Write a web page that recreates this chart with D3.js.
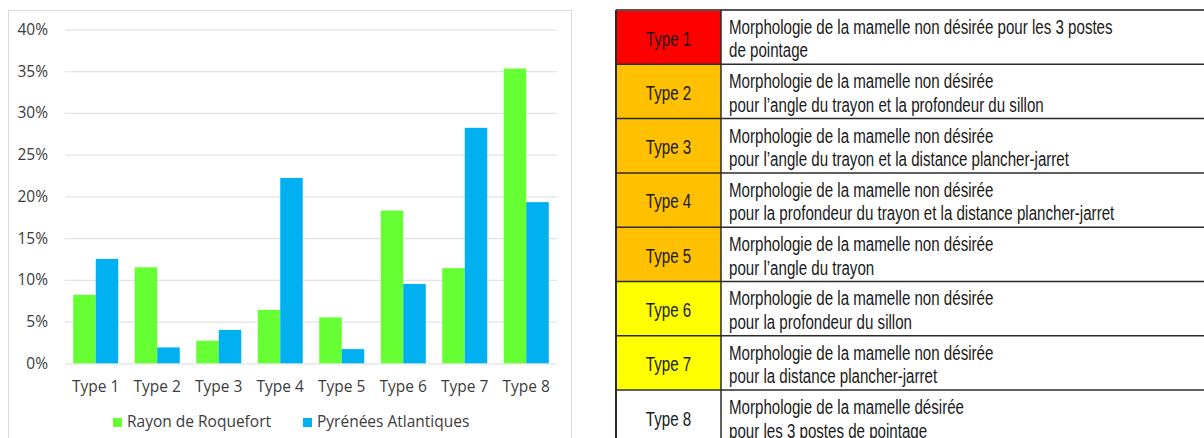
<!DOCTYPE html>
<html>
<head>
<meta charset="utf-8">
<script src="https://cdn.jsdelivr.net/npm/d3@7"></script>
<style>
  body { margin: 0; background: #fff; }
  svg { display: block; }
</style>
</head>
<body>
<div id="chart-area"></div>
<script>
// data
const types = ['Type 1', 'Type 2', 'Type 3', 'Type 4', 'Type 5', 'Type 6', 'Type 7', 'Type 8']
const seriesNames = ['Rayon de Roquefort', 'Pyrénées Atlantiques']
const roquefort = [8.2, 11.5, 2.7, 6.4, 5.5, 18.3, 11.4, 35.3]
const pyrenees = [12.5, 1.9, 4.0, 22.2, 1.7, 9.5, 28.2, 19.3]
const yTicks = [0, 5, 10, 15, 20, 25, 30, 35, 40]

const descriptions = [
  ['Morphologie de la mamelle non désirée pour les 3 postes', 'de pointage'],
  ['Morphologie de la mamelle non désirée', 'pour l\u2019angle du trayon et la profondeur du sillon'],
  ['Morphologie de la mamelle non désirée', 'pour l\u2019angle du trayon et la distance plancher-jarret'],
  ['Morphologie de la mamelle non désirée', 'pour la profondeur du trayon et la distance plancher-jarret'],
  ['Morphologie de la mamelle non désirée', 'pour l\u2019angle du trayon'],
  ['Morphologie de la mamelle non désirée', 'pour la profondeur du sillon'],
  ['Morphologie de la mamelle non désirée', 'pour la distance plancher-jarret'],
  ['Morphologie de la mamelle désirée', 'pour les 3 postes de pointage']
]

const W = 1204, H = 438

let svg = d3.select('#chart-area')
  .append('svg')
  .attr('width', W)
  .attr('height', H)

// ---------- bar chart ----------
const chart = { left: 65, right: 557, top: 29.3, bottom: 363.3 }
const labelFont = '"Open Sans", sans-serif'
const textColor = '#3c3c3c'

svg.append('rect')
  .attr('x', 8.5).attr('y', 10.5)
  .attr('width', 563).attr('height', 440)
  .attr('fill', '#fff')
  .attr('stroke', '#d9d9d9')

let x = d3.scaleBand()
  .domain(types)
  .range([chart.left, chart.right])
  .paddingInner(0.268)
  .paddingOuter(0.134)

let x1 = d3.scaleBand()
  .domain(seriesNames)
  .range([0, x.bandwidth()])

let y = d3.scaleLinear()
  .domain([0, 40])
  .range([chart.bottom, chart.top])

let color = d3.scaleOrdinal()
  .domain(seriesNames)
  .range(['#66ff33', '#00b0f0'])

// gridlines + y labels
let yAxis = d3.axisLeft(y)
  .tickValues(yTicks)
  .tickFormat(d => d + '%')
  .tickSize(-(chart.right - chart.left))
  .tickPadding(17)

let gy = svg.append('g')
  .attr('transform', `translate(${chart.left}, 0)`)
  .call(yAxis)
gy.select('.domain').remove()
gy.selectAll('.tick line').attr('stroke', '#e3e3e3').attr('stroke-width', 1.3)
gy.selectAll('.tick text')
  .attr('fill', textColor)
  .style('font', `15.5px ${labelFont}`)

// bars
let rows = types.map((t, i) => ({ type: t, values: [roquefort[i], pyrenees[i]] }))

let groups = svg.append('g')
  .selectAll('g')
  .data(rows)
  .join('g')
  .attr('transform', d => `translate(${x(d.type)}, 0)`)

groups.selectAll('rect')
  .data(d => seriesNames.map((s, j) => ({ series: s, value: d.values[j] })))
  .join('rect')
  .attr('x', d => x1(d.series))
  .attr('width', x1.bandwidth())
  .attr('y', d => y(d.value))
  .attr('height', d => y(0) - y(d.value))
  .attr('fill', d => color(d.series))

// x labels
let xAxis = d3.axisBottom(x).tickSize(0).tickPadding(0)
let gx = svg.append('g')
  .attr('transform', `translate(0, ${chart.bottom})`)
  .call(xAxis)
gx.select('.domain').remove()
gx.selectAll('.tick text')
  .attr('y', 29)
  .attr('dy', 0)
  .attr('fill', textColor)
  .style('font', `15.5px ${labelFont}`)

// legend
const legendX = [113, 303]
let legend = svg.append('g')
  .selectAll('g')
  .data(seriesNames)
  .join('g')
  .attr('transform', (d, i) => `translate(${legendX[i]}, 418)`)

legend.append('rect')
  .attr('width', 9).attr('height', 9)
  .attr('fill', d => color(d))

legend.append('text')
  .attr('x', 14)
  .attr('y', 9)
  .attr('fill', textColor)
  .style('font', `15.5px ${labelFont}`)
  .text(d => d)

// ---------- legend table ----------
const table = { left: 616, mid: 721, right: 1230, top: 10, rowH: 54.3 }
const tableFont = '"Liberation Sans", Arial, sans-serif'
const narrow = 0.755 // the table uses a condensed face

let rowColor = d3.scaleOrdinal()
  .domain(types)
  .range(['#ff0000', '#ffc000', '#ffc000', '#ffc000', '#ffc000', '#ffff00', '#ffff00', '#ffffff'])

let ty = d3.scaleBand()
  .domain(types)
  .range([table.top, table.top + table.rowH * types.length])

let trow = svg.append('g')
  .selectAll('g')
  .data(types)
  .join('g')
  .attr('transform', d => `translate(0, ${ty(d)})`)

trow.append('rect')
  .attr('x', table.left).attr('width', table.mid - table.left)
  .attr('height', ty.bandwidth())
  .attr('fill', d => rowColor(d))

trow.append('rect')
  .attr('x', table.mid).attr('width', table.right - table.mid)
  .attr('height', ty.bandwidth())
  .attr('fill', '#fff')

trow.append('text')
  .attr('transform', `translate(${(table.left + table.mid) / 2}, 35.5) scale(${narrow}, 1)`)
  .attr('text-anchor', 'middle')
  .attr('fill', '#1a1a1a')
  .style('font', `20px ${tableFont}`)
  .text(d => d)

trow.append('text')
  .attr('transform', `translate(${table.mid + 8}, 0) scale(${narrow}, 1)`)
  .attr('fill', '#1a1a1a')
  .style('font', `20px ${tableFont}`)
  .selectAll('tspan')
  .data((d, i) => descriptions[i])
  .join('tspan')
  .attr('x', 0)
  .attr('y', (d, i) => 24 + i * 23.5)
  .text(d => d)

// grid lines of the table
let tlines = svg.append('g')
  .attr('stroke', '#2b2b2b')
  .attr('stroke-width', 1.5)
  .attr('fill', 'none')

tlines.selectAll('line.h')
  .data(types.slice(1))
  .join('line')
  .attr('class', 'h')
  .attr('x1', table.left).attr('x2', table.right)
  .attr('y1', d => ty(d)).attr('y2', d => ty(d))

tlines.append('line')
  .attr('x1', table.left).attr('x2', table.right)
  .attr('y1', table.top).attr('y2', table.top)
  .attr('stroke', '#555').attr('stroke-width', 2)

tlines.append('line')
  .attr('x1', table.left).attr('x2', table.left)
  .attr('y1', table.top).attr('y2', H + 10)
  .attr('stroke-width', 2)

tlines.append('line')
  .attr('x1', table.mid).attr('x2', table.mid)
  .attr('y1', table.top).attr('y2', H + 10)
</script>
</body>
</html>
